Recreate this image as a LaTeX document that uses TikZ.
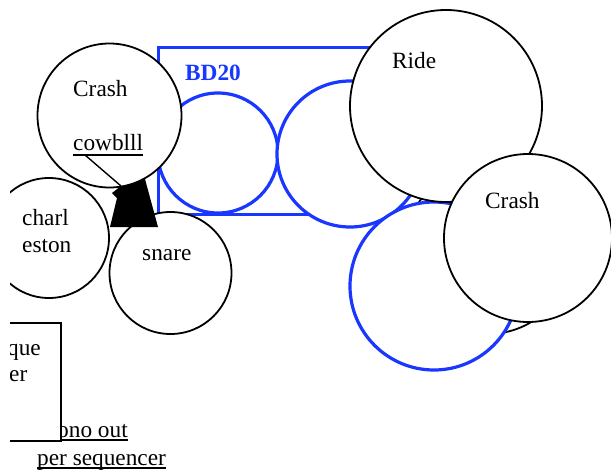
\documentclass[tikz,border=0pt]{standalone}
\usepackage{fontspec}
\setmainfont{Liberation Serif}
\definecolor{bblue}{RGB}{25,55,255}
\begin{document}
\begin{tikzpicture}[x=1pt,y=-1pt,
  bk/.style={circle,draw=black,fill=white,line width=1.8pt,inner sep=0,minimum size=#1},
  bl/.style={circle,draw=bblue,fill=white,line width=3.2pt,inner sep=0,minimum size=#1},
  lbl/.style={anchor=base west,inner sep=0,font=\fontsize{23.3}{28}\selectfont},
  uline/.style={line width=1.6pt}]
\useasboundingbox (0,0) rectangle (611,472);
\begin{scope}
\clip (10,0) rectangle (611,472);
% blue group
\node[draw=bblue,line width=3.2pt,inner sep=0,minimum width=283pt,minimum height=167pt,anchor=north west] (bd) at (157,46) {};
\node[bl=120pt] (b1) at (218,153) {};
\node[bl=146pt] (b2) at (350,154) {};
\node[bk=168pt] (hid) at (488,250) {};
\node[bl=168pt] (b3) at (434,286) {};
\node[bk=192pt] (ridec) at (446,106) {};
\node[bk=168pt] (crBc) at (528,238) {};
\node[lbl,font=\fontsize{23.3}{28}\selectfont\bfseries,text=bblue] (bdt) at (185,80) {BD20};
\node[lbl] (ride) at (392,68) {Ride};
\node[lbl] (crB) at (485,208) {Crash};
% left group
\node[bk=120pt] (chc) at (49,238) {};
\node[bk=122pt] (snc) at (170.5,273) {};
\coordinate (tipA) at (121,186);
\fill (110,227) -- (117,198) -- (112,193) -- (tipA) -- (135,168) -- (142,168) -- (158,227) -- cycle;
\node[bk=144pt] (crAc) at (109.5,115.5) {};
\node[lbl] (crA) at (73,96) {Crash};
\node[lbl] (cow) at (73,150) {cowblll};
\draw[uline] ([yshift=-5pt]cow.base west) -- ([yshift=-5pt]cow.base east);
\draw[line width=1.4pt] ([xshift=12pt,yshift=-5pt]cow.base west) -- (tipA);
\node[lbl] (ch1) at (22,225) {charl};
\node[lbl] (ch2) at (22,252) {eston};
\node[lbl] (sn) at (142,260) {snare};
% bottom left
\node[lbl] (mono) at (57,437) {ono out};
\draw[uline] ([yshift=-3pt]mono.base west) -- ([yshift=-3pt]mono.base east);
\node[draw,fill=white,line width=1.8pt,inner sep=0,minimum width=72pt,minimum height=118pt,anchor=north east] (sq) at (62,322) {};
\node[lbl] (q1) at (7,355) {que};
\node[lbl] (q2) at (9,381) {er};
\node[lbl] (ps) at (37,465) {per sequencer};
\draw[uline] ([yshift=-3pt]ps.base west) -- ([yshift=-3pt]ps.base east);
\end{scope}
\end{tikzpicture}
\end{document}
